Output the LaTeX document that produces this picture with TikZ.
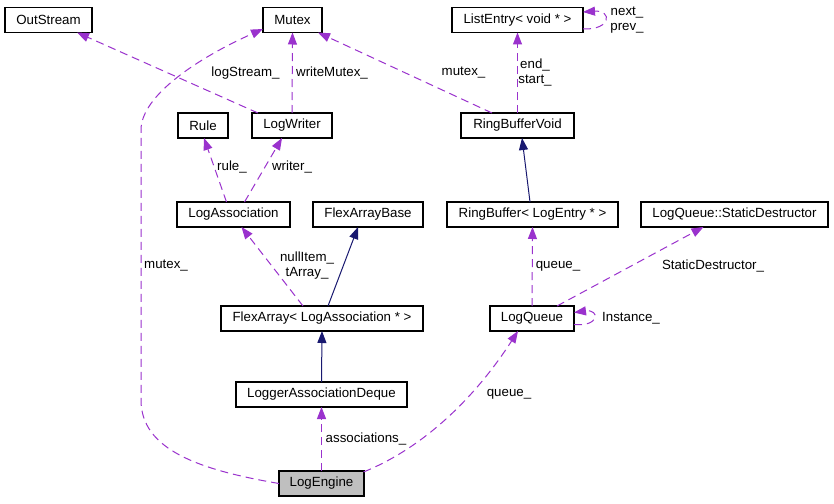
\documentclass[tikz,border=0pt]{standalone}
\usepackage{fontspec}
\setmainfont{Liberation Sans}
\usetikzlibrary{arrows.meta}
\definecolor{dpurple}{HTML}{9A32CD}
\definecolor{dnavy}{HTML}{191970}
\definecolor{dgray}{HTML}{BFBFBF}
\begin{document}
\begin{tikzpicture}[x=1pt,y=-1pt,font=\fontsize{13.3}{15}\selectfont,
  box/.style={draw=black,line width=1.1pt,fill=white,minimum height=25pt,inner sep=0pt,outer sep=0pt},
  uses/.style={draw=dpurple,line width=1pt,dash pattern=on 8pt off 5pt,-{Triangle[length=12pt,width=9pt,fill=dpurple]}},
  inherit/.style={draw=dnavy,line width=1pt,-{Triangle[length=12pt,width=9pt,fill=dnavy]}},
  lbl/.style={inner sep=0pt,align=center}]
\fill[white] (0,0) rectangle (834,503);
\useasboundingbox (0,0) rectangle (834,503);
% nodes
\node[box,minimum width=87pt]  (outstream) at (48.5,20) {OutStream};
\node[box,minimum width=59pt]  (mutex) at (292.5,20) {Mutex};
\node[box,minimum width=131pt] (listentry) at (517.5,20) {ListEntry< void * >};
\node[box,minimum width=50pt]  (rule) at (203,125.5) {Rule};
\node[box,minimum width=80pt]  (logwriter) at (292,125.5) {LogWriter};
\node[box,minimum width=113pt] (rbvoid) at (517.5,125.5) {RingBufferVoid};
\node[box,minimum width=113pt] (logassoc) at (233.5,214.5) {LogAssociation};
\node[box,minimum width=110pt] (flexbase) at (368,214.5) {FlexArrayBase};
\node[box,minimum width=171pt] (ringbuffer) at (532.5,214.5) {RingBuffer< LogEntry * >};
\node[box,minimum width=187pt] (staticd) at (734.5,214.5) {LogQueue::StaticDestructor};
\node[box,minimum width=202pt] (flexarray) at (322,318.5) {FlexArray< LogAssociation * >};
\node[box,minimum width=84pt]  (logqueue) at (532,318.5) {LogQueue};
\node[box,minimum width=171pt] (deque) at (321.5,394.5) {LoggerAssociationDeque};
\node[box,minimum width=85pt,fill=dgray] (logengine) at (321.5,483.5) {LogEngine};
% coordinates for loops
\coordinate (mleft) at (141,400);
\coordinate (mtop) at (141,130);
% edges
\draw[uses] ([xshift=-34pt]logwriter.north) -- ([xshift=28.5pt]outstream.south);
\draw[uses] (logwriter.north) -- (mutex.south);
\draw[uses] (logengine.west) .. controls (200,470) and (141,450) .. (mleft) -- (mtop)
   .. controls (141,95) and (200,57) .. ([yshift=-9pt]mutex.west);
\draw[uses] ([xshift=-25.5pt]rbvoid.north) -- ([xshift=-4pt]mutex.south east);
\draw[uses] (rbvoid.north) -- (listentry.south);
\draw[uses] ([yshift=-9pt]listentry.east) .. controls (612,30) and (612,10) .. ([yshift=8pt]listentry.east);
\draw[uses] ([xshift=-7pt]logassoc.north) -- ([xshift=1pt]rule.south);
\draw[uses] ([xshift=11pt]logassoc.north) -- ([xshift=-10pt]logwriter.south);
\draw[uses] ([xshift=-19pt]flexarray.north) -- ([xshift=8pt]logassoc.south);
\draw[inherit] ([xshift=6pt]flexarray.north) -- ([xshift=-10pt]flexbase.south);
\draw[inherit] (deque.north) -- (flexarray.south);
\draw[inherit] ([xshift=-2.5pt]ringbuffer.north) -- ([xshift=4.5pt]rbvoid.south);
\draw[uses] (logqueue.north) -- (ringbuffer.south);
\draw[uses] ([xshift=25pt]logqueue.north) -- ([xshift=-31pt]staticd.south);
\draw[uses] ([yshift=-6pt]logqueue.east) .. controls (600,327) and (600,309) .. ([yshift=6pt]logqueue.east);
\draw[uses] ([xshift=42pt,yshift=-1pt]logengine.north) .. controls (430,445) and (480,390) .. ([xshift=-14pt]logqueue.south);
\draw[uses] (logengine.north) -- (deque.south);
% labels
\node[lbl] (l1) at (245.5,73) {logStream\_};
\node[lbl] (l2) at (332,73) {writeMutex\_};
\node[lbl] (l3) at (463.5,73) {mutex\_};
\node[lbl] (l4) at (535,72.5) {end\_\\start\_};
\node[lbl] (l5) at (627,20) {next\_\\prev\_};
\node[lbl] (l6) at (232,167) {rule\_};
\node[lbl] (l7) at (292,167) {writer\_};
\node[lbl] (l8) at (166,266) {mutex\_};
\node[lbl] (l9) at (307,266) {nullItem\_\\tArray\_};
\node[lbl] (l10) at (558,266) {queue\_};
\node[lbl] (l11) at (713,266) {StaticDestructor\_};
\node[lbl] (l12) at (631,318) {Instance\_};
\node[lbl] (l13) at (509,394) {queue\_};
\node[lbl] (l14) at (366,439) {associations\_};
\end{tikzpicture}
\end{document}
